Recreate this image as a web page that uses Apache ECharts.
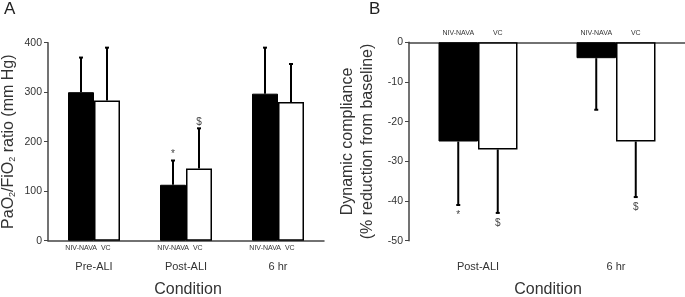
<!DOCTYPE html>
<html>
<head>
<meta charset="utf-8">
<script src="https://cdn.jsdelivr.net/npm/echarts@6/dist/echarts.min.js"></script>
<style>
  html, body { margin: 0; padding: 0; background: #fff; }
  #chart { width: 685px; height: 297px; }
</style>
</head>
<body>
<div id="chart"></div>
<script>
// panel A: PaO2/FiO2 ratio
const categoriesA = ['Pre-ALI', 'Post-ALI', '6 hr'];
const navaA = [300, 113, 297];
const navaSdA = [70, 49, 93];
const vcA = [283, 146, 280];
const vcSdA = [107, 81, 77];
const navaMarkA = ['', '*', ''];
const vcMarkA = ['', '$', ''];
const ticksA = [0, 100, 200, 300, 400];

// panel B: dynamic compliance
const categoriesB = ['Post-ALI', '6 hr'];
const navaB = [-25, -4];
const navaSdB = [16, 13];
const vcB = [-27, -25];
const vcSdB = [16, 14];
const navaMarkB = ['*', ''];
const vcMarkB = ['$', '$'];
const ticksB = [0, -10, -20, -30, -40, -50];

const TXT = '#333';
const AX = '#444';
const sans = 'Liberation Sans';

// error bar + marker + sub label, drawn through the axes
function errRenderer(offset, sign, markGap, subLabel, subDy) {
  return function (params, api) {
    const i = api.value(0);
    const base = api.coord([i, api.value(1)]);
    const tip = api.coord([i, api.value(1) + sign * api.value(2)]);
    const zero = api.coord([i, 0]);
    const x = base[0] + offset;
    const children = [
      { type: 'line', shape: { x1: x, y1: base[1], x2: x, y2: tip[1] },
        style: { stroke: '#000', lineWidth: 2 } },
      { type: 'line', shape: { x1: x - 2, y1: tip[1], x2: x + 2, y2: tip[1] },
        style: { stroke: '#000', lineWidth: 2 } }
    ];
    const m = api.value(3);
    if (m) {
      children.push({ type: 'text', style: {
        text: m, x: x, y: tip[1] + markGap, align: 'center', verticalAlign: 'middle',
        fontSize: 10, fontFamily: sans, fill: '#444' } });
    }
    if (subLabel) {
      children.push({ type: 'text', style: {
        text: subLabel.text, x: zero[0] + subLabel.dx, y: zero[1] + subDy,
        align: 'center', verticalAlign: 'middle',
        fontSize: 7, fontFamily: sans, fill: TXT } });
    }
    return { type: 'group', children: children };
  };
}

function errData(vals, sds, marks) {
  return vals.map((v, i) => [i, v, sds[i], marks[i]]);
}

const condStyle = { text: 'Condition', fontSize: 16, fontFamily: sans, fill: TXT, align: 'center', verticalAlign: 'middle' };

const chart = echarts.init(document.getElementById('chart'));
chart.setOption({
  animation: false,
  backgroundColor: '#fff',
  graphic: [
    { type: 'text', left: 4, top: 1, style: { text: 'A', fontSize: 17, fontFamily: sans, fill: '#222' } },
    { type: 'text', left: 369, top: 1, style: { text: 'B', fontSize: 17, fontFamily: sans, fill: '#222' } },
    { type: 'text', x: 188, y: 290, style: condStyle },
    { type: 'text', x: 548, y: 290, style: condStyle }
  ],
  grid: [
    { left: 48, width: 276, top: 42.7, height: 198, outerBoundsMode: 'none', containLabel: false },
    { left: 409, right: 0, top: 42.3, height: 198.4, outerBoundsMode: 'none', containLabel: false }
  ],
  xAxis: [
    { gridIndex: 0, type: 'category', data: categoriesA,
      axisLine: { lineStyle: { color: AX, width: 1.5 } }, axisTick: { show: false },
      axisLabel: { color: TXT, fontSize: 11, fontFamily: sans, margin: 21 } },
    { gridIndex: 1, type: 'category', data: categoriesB, position: 'bottom',
      axisLine: { show: false, onZero: false }, axisTick: { show: false },
      axisLabel: { color: TXT, fontSize: 11, fontFamily: sans, margin: 21 } },
    { gridIndex: 1, type: 'category', data: categoriesB, position: 'top',
      axisLine: { onZero: false, lineStyle: { color: AX, width: 1.5 } },
      axisTick: { show: false }, axisLabel: { show: false } }
  ],
  yAxis: [
    { gridIndex: 0, type: 'value', min: ticksA[0], max: ticksA[ticksA.length - 1], interval: 100,
      splitLine: { show: false },
      axisLine: { show: true, lineStyle: { color: AX, width: 1.5 } },
      axisTick: { show: true, length: 4, lineStyle: { color: AX } },
      axisLabel: { color: TXT, fontSize: 10.5, fontFamily: sans, margin: 6 },
      name: 'PaO{s|2}/FiO{s|2} ratio (mm Hg)', nameLocation: 'middle', nameGap: 31,
      nameTextStyle: { fontSize: 16, fontFamily: sans, color: TXT,
        rich: { s: { fontSize: 9, fontFamily: sans, color: TXT, verticalAlign: 'bottom', padding: [6, 0, 0, 0] } } } },
    { gridIndex: 1, type: 'value', min: ticksB[ticksB.length - 1], max: ticksB[0], interval: 10,
      splitLine: { show: false },
      axisLine: { show: true, onZero: false, lineStyle: { color: AX, width: 1.5 } },
      axisTick: { show: true, length: 4, lineStyle: { color: AX } },
      axisLabel: { color: TXT, fontSize: 10.5, fontFamily: sans, margin: 6 },
      name: 'Dynamic compliance\n(% reduction from baseline)', nameLocation: 'middle', nameGap: 31,
      nameTextStyle: { fontSize: 16, fontFamily: sans, color: TXT, lineHeight: 20 } }
  ],
  series: [
    { type: 'bar', xAxisIndex: 0, yAxisIndex: 0, data: navaA, barWidth: 26, barGap: '0%',
      itemStyle: { color: '#000', borderColor: '#000', borderWidth: 1 } },
    { type: 'bar', xAxisIndex: 0, yAxisIndex: 0, data: vcA, barWidth: 26, barGap: '0%',
      itemStyle: { color: '#fff', borderColor: '#000', borderWidth: 1.5 } },
    { type: 'bar', xAxisIndex: 1, yAxisIndex: 1, data: navaB, barWidth: 39.5, barGap: '0%',
      itemStyle: { color: '#000', borderColor: '#000', borderWidth: 1 } },
    { type: 'bar', xAxisIndex: 1, yAxisIndex: 1, data: vcB, barWidth: 39.5, barGap: '0%',
      itemStyle: { color: '#fff', borderColor: '#000', borderWidth: 1.5 } },
    { type: 'custom', xAxisIndex: 0, yAxisIndex: 0, z: 5,
      renderItem: errRenderer(-13, 1, -6, { text: 'NIV-NAVA  VC', dx: -6 }, 7),
      data: errData(navaA, navaSdA, navaMarkA) },
    { type: 'custom', xAxisIndex: 0, yAxisIndex: 0, z: 5,
      renderItem: errRenderer(13, 1, -6, null, 0),
      data: errData(vcA, vcSdA, vcMarkA) },
    { type: 'custom', xAxisIndex: 1, yAxisIndex: 1, z: 5,
      renderItem: errRenderer(-19.75, -1, 10, { text: 'NIV-NAVA', dx: -19.75 }, -9),
      data: errData(navaB, navaSdB, navaMarkB) },
    { type: 'custom', xAxisIndex: 1, yAxisIndex: 1, z: 5,
      renderItem: errRenderer(19.75, -1, 10, { text: 'VC', dx: 19.75 }, -9),
      data: errData(vcB, vcSdB, vcMarkB) }
  ]
});
</script>
</body>
</html>
